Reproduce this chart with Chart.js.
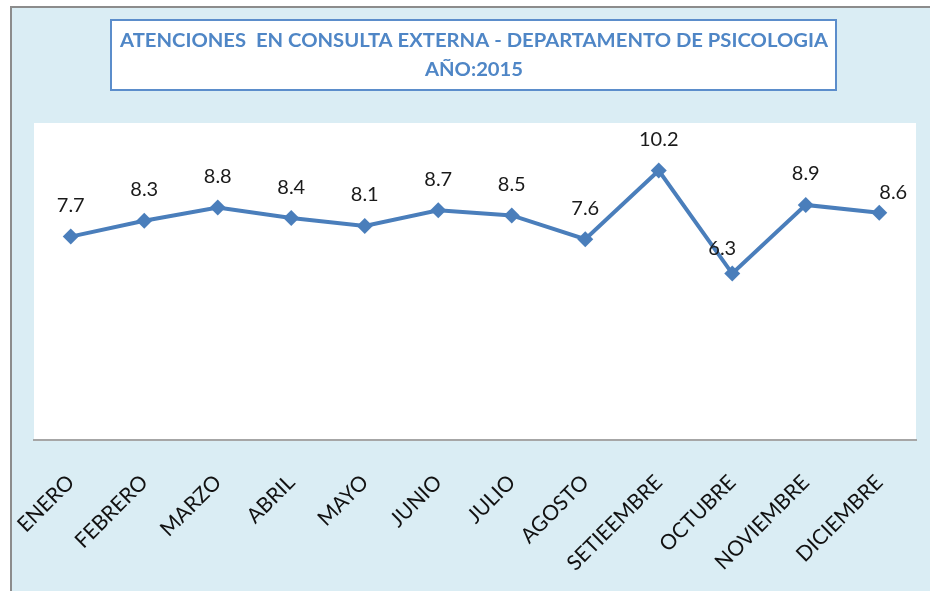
<!DOCTYPE html>
<html>
<head>
<meta charset="utf-8">
<script src="https://cdn.jsdelivr.net/npm/chart.js@4.4.0/dist/chart.umd.min.js"></script>
<style>
html,body{margin:0;padding:0;background:#fff;}
#wrap{position:relative;width:930px;height:591px;}
</style>
</head>
<body>
<div id="wrap"><canvas id="c" width="930" height="591"></canvas></div>
<script>
const titleLines = ["ATENCIONES  EN CONSULTA EXTERNA - DEPARTAMENTO DE PSICOLOGIA", "AÑO:2015"];
const months = ["ENERO","FEBRERO","MARZO","ABRIL","MAYO","JUNIO","JULIO","AGOSTO","SETIEEMBRE","OCTUBRE","NOVIEMBRE","DICIEMBRE"];
const atenciones = [7.7, 8.3, 8.8, 8.4, 8.1, 8.7, 8.5, 7.6, 10.2, 6.3, 8.9, 8.6];

const BG = '#DAEDF4';
const LINE = '#4A7EBB';

const framePlugin = {
  id: 'frame',
  beforeDraw(chart) {
    const ctx = chart.ctx, a = chart.chartArea;
    ctx.save();
    ctx.fillStyle = '#ffffff';
    ctx.fillRect(0, 0, chart.width, chart.height);
    ctx.fillStyle = BG;
    ctx.fillRect(10, 6, chart.width - 10, chart.height - 6);
    ctx.strokeStyle = '#8C8C8C';
    ctx.lineWidth = 2;
    ctx.beginPath();
    ctx.moveTo(11, chart.height);
    ctx.lineTo(11, 7);
    ctx.lineTo(chart.width, 7);
    ctx.stroke();
    // plot area
    ctx.fillStyle = '#ffffff';
    ctx.fillRect(a.left, a.top, a.right - a.left, a.bottom - a.top);
    // title box
    ctx.fillStyle = '#ffffff';
    ctx.fillRect(111, 20, 725, 70);
    ctx.strokeStyle = '#5B8DCB';
    ctx.lineWidth = 2;
    ctx.strokeRect(111, 20, 725, 70);
    ctx.fillStyle = '#4F86C6';
    ctx.font = 'bold 17px Lato';
    ctx.textAlign = 'center';
    ctx.textBaseline = 'middle';
    const w = ctx.measureText(titleLines[0]).width;
    const sx = 708 / w;
    ctx.save();
    ctx.translate(474, 41);
    ctx.scale(sx, 1.15);
    ctx.fillText(titleLines[0], 0, 0);
    ctx.restore();
    ctx.save();
    ctx.translate(474, 70);
    ctx.scale(sx, 1.15);
    ctx.fillText(titleLines[1], 0, 0);
    ctx.restore();
    ctx.restore();
  }
};

const labelShift = [[0,0],[0,0],[0,0],[0,0],[0,0],[0,0],[0,0],[0,0],[0,0],[-10,6],[0,0],[14,11]];
const labelsPlugin = {
  id: 'vlabels',
  afterDatasetsDraw(chart) {
    const ctx = chart.ctx;
    const meta = chart.getDatasetMeta(0);
    ctx.save();
    ctx.fillStyle = '#1a1a1a';
    ctx.font = '20px Lato';
    ctx.textAlign = 'center';
    ctx.textBaseline = 'middle';
    meta.data.forEach((p, i) => {
      const s = labelShift[i];
      ctx.fillText(String(atenciones[i]), p.x + s[0], p.y - 31 + s[1]);
    });
    ctx.restore();
  }
};

new Chart(document.getElementById('c'), {
  type: 'line',
  data: {
    labels: months,
    datasets: [{
      data: atenciones,
      borderColor: LINE,
      backgroundColor: LINE,
      borderWidth: 4,
      pointStyle: 'rectRot',
      pointRadius: 8,
      pointHoverRadius: 8,
      pointBackgroundColor: LINE,
      pointBorderColor: LINE,
      pointBorderWidth: 0,
      tension: 0
    }]
  },
  options: {
    responsive: false,
    animation: false,
    devicePixelRatio: 1,
    layout: { padding: { left: 34, right: 14, top: 123, bottom: 0 } },
    plugins: { legend: { display: false }, tooltip: { enabled: false }, title: { display: false } },
    scales: {
      x: {
        offset: true,
        grid: { display: false, drawTicks: false },
        border: { display: true, color: '#A6A6A6', width: 2 },
        ticks: { color: '#111', font: { family: 'Lato', size: 21 }, maxRotation: 45, minRotation: 45, padding: 30, autoSkip: false },
        afterFit(scale) { scale.height = 151; scale.paddingLeft = 0; scale.paddingRight = 0; }
      },
      y: {
        display: false,
        min: 0,
        max: 12
      }
    }
  },
  plugins: [framePlugin, labelsPlugin]
});
</script>
</body>
</html>
